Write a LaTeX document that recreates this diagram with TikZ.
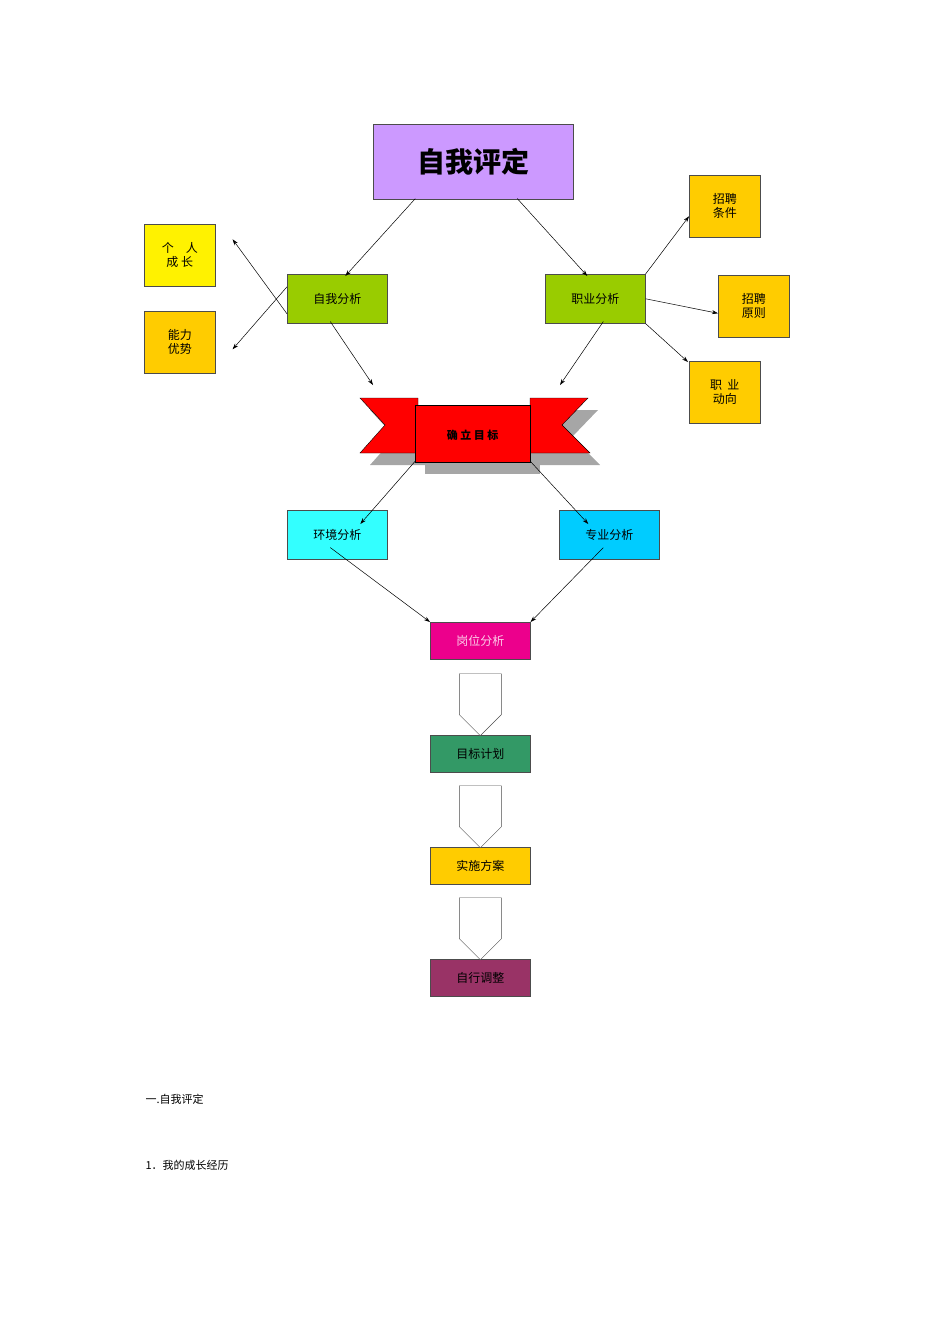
\documentclass[tikz,border=0pt]{standalone}
\usepackage{fontspec}
\newfontfamily\cjk{Noto Sans CJK SC}
\usetikzlibrary{arrows.meta,shapes.arrows}
\begin{document}
\begin{tikzpicture}[x=1pt,y=-1pt,
 bx/.style={draw=black!70,line width=0.6pt,minimum width=100pt,minimum height=49pt,font=\cjk\fontsize{12}{14}\selectfont,align=center,anchor=north west},
 sm/.style={bx,minimum width=71pt,minimum height=62pt},
 lo/.style={bx,minimum height=37pt},
 ar/.style={-{Stealth[length=6pt,width=4pt]},line width=0.5pt},
 ba/.style={single arrow,draw=black!70,fill=white,shape border rotate=270,minimum height=62pt,minimum width=42pt,single arrow head extend=0pt,inner sep=0pt,single arrow tip angle=90}]
\useasboundingbox (0,0) rectangle (950,1344);
\node[bx,fill={rgb,255:red,204;green,153;blue,255},minimum width=200pt,minimum height=75pt,font=\cjk\fontsize{28}{30}\selectfont\bfseries] (top) at (373,124) {自我评定};
\node[sm,fill=yellow] (gr) at (144,224) {个\quad 人\\成\ 长};
\node[sm,fill={rgb,255:red,255;green,204;blue,0}] (nl) at (144,311) {能力\\优势};
\node[bx,fill={rgb,255:red,153;green,204;blue,0}] (zw) at (287,274) {自我分析};
\node[bx,fill={rgb,255:red,153;green,204;blue,0}] (zy) at (545,274) {职业分析};
\node[sm,fill={rgb,255:red,255;green,204;blue,0}] (tj) at (689,175) {招聘\\条件};
\node[sm,fill={rgb,255:red,255;green,204;blue,0}] (yz) at (718,275) {招聘\\原则};
\node[sm,fill={rgb,255:red,255;green,204;blue,0}] (dx) at (689,361) {职\ \ 业\\动向};
% ribbon
\fill[gray!70] (370,410)--(428,410)--(428,465)--(370,465)--(395,437)--cycle;
\fill[gray!70] (540,410)--(598,410)--(572,437)--(600,465)--(540,465)--cycle;
\fill[gray!70] (425,417) rectangle (540,474);
\draw[fill=red] (360,398)--(418,398)--(418,453)--(360,453)--(385,425)--cycle;
\draw[fill=red] (530,398)--(588,398)--(562,425)--(590,453)--(530,453)--cycle;
\node[draw,fill=red,minimum width=115pt,minimum height=57pt,anchor=north west,inner sep=0pt,font=\cjk\fontsize{11}{12}\selectfont\bfseries] (rb) at (415,405) {\raisebox{-12pt}{确\ 立\ 目\ 标}};
\node[bx,fill={rgb,255:red,51;green,255;blue,255}] (hj) at (287,510) {环境分析};
\node[bx,fill={rgb,255:red,0;green,204;blue,255}] (zh) at (559,510) {专业分析};
\node[lo,fill=magenta,text=white!80!magenta] (gw) at (430,622) {岗位分析};
\node[lo,fill={rgb,255:red,51;green,153;blue,102}] (mb) at (430,735) {目标计划};
\node[lo,fill={rgb,255:red,255;green,204;blue,0}] (ss) at (430,847) {实施方案};
\node[lo,fill={rgb,255:red,153;green,51;blue,102}] (tz) at (430,959) {自行调整};
\node[ba,anchor=tip] (b1) at ([yshift=-1pt]mb.north) {};
\node[ba,anchor=tip] (b2) at ([yshift=-1pt]ss.north) {};
\node[ba,anchor=tip] (b3) at ([yshift=-1pt]tz.north) {};
\draw[ar] ([xshift=-58pt,yshift=1pt]top.south) -- ([xshift=8pt,yshift=-2pt]zw.north);
\draw[ar] ([xshift=44pt,yshift=1pt]top.south) -- ([xshift=-8pt,yshift=-2pt]zy.north);
\draw[ar] ([yshift=-15pt]zw.west) -- ([xshift=17pt,yshift=16pt]gr.east);
\draw[ar] ([yshift=12pt]zw.west) -- ([xshift=17pt,yshift=-7pt]nl.east);
\draw[ar] ([xshift=-7pt,yshift=2pt]zw.south) -- (373,385) coordinate (c1);
\draw[ar] ([xshift=8pt,yshift=2pt]zy.south) -- (560,385) coordinate (c2);
\draw[ar] (zy.north east) -- ([yshift=-10pt]tj.west);
\draw[ar] (zy.east) -- ([yshift=-7pt]yz.west);
\draw[ar] (zy.south east) -- ([xshift=-1pt,yshift=-1pt]dx.north west);
\draw[ar] ([xshift=0pt,yshift=1pt]rb.south west) -- ([xshift=23pt,yshift=-14pt]hj.north);
\draw[ar] ([yshift=1pt]rb.south east) -- ([xshift=-21pt,yshift=-14pt]zh.north);
\draw[ar] ([xshift=-7pt,yshift=12pt]hj.south) -- (gw.north west);
\draw[ar] ([xshift=-6pt,yshift=12pt]zh.south) -- (gw.north east);
\node[anchor=west,font=\cjk\fontsize{11}{13}\selectfont] (t1) at (142,1099) {一.自我评定};
\node[anchor=west,font=\cjk\fontsize{11}{13}\selectfont] (t2) at (142,1165) {1．我的成长经历};
\end{tikzpicture}
\end{document}
